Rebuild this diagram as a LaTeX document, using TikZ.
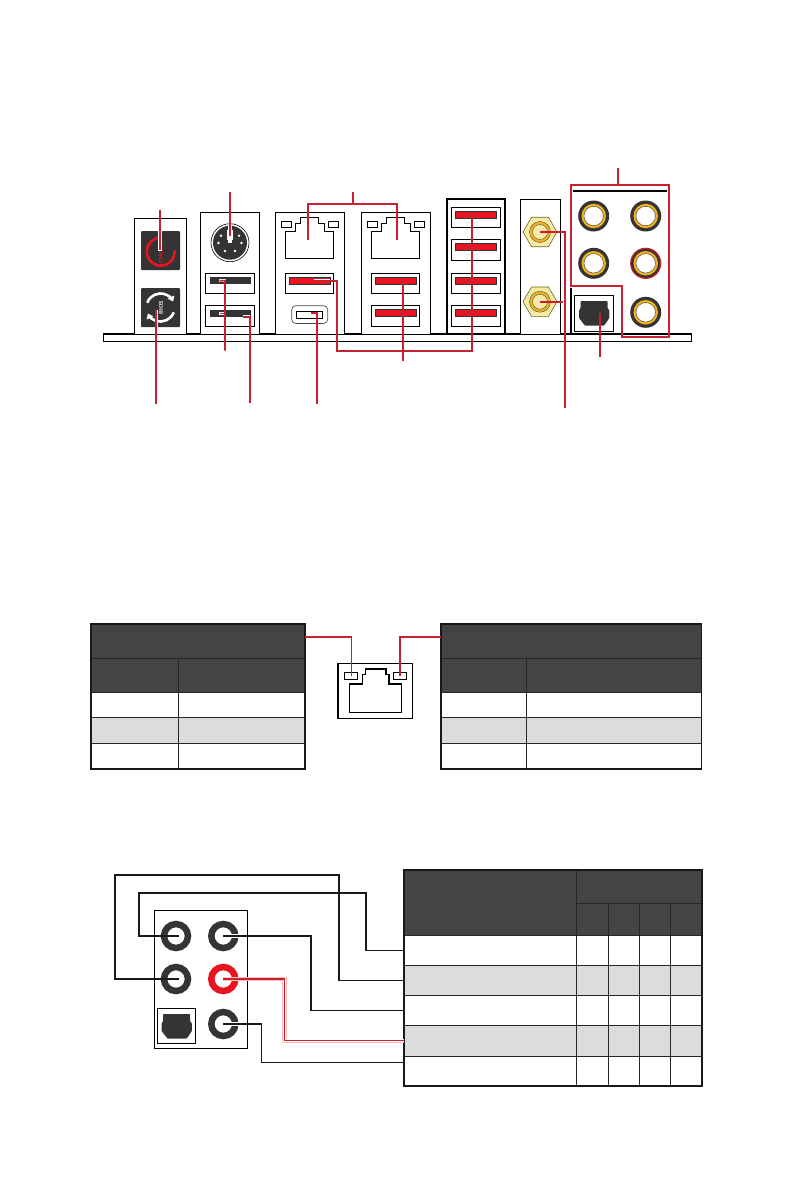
\documentclass[tikz,border=0pt]{standalone}
\usepackage{xcolor}
\usepackage{tikz}
\usetikzlibrary{shapes.geometric,arrows.meta,positioning,calc}
\definecolor{leadRed}{HTML}{C8202E}
\definecolor{portRed}{HTML}{E8141F}
\definecolor{portDark}{HTML}{353334}
\definecolor{headDark}{HTML}{454344}
\definecolor{rowGray}{HTML}{DCDCDC}
\definecolor{portGold}{HTML}{EFB41C}
\definecolor{paleGold}{HTML}{F6EBA6}

\begin{document}
\begin{tikzpicture}[
    x=1pt, y=-1pt,
    boxSize/.style 2 args={minimum width=#1pt, minimum height=#2pt},
    boxNode/.style={rectangle, anchor=north west, inner sep=0pt, outer sep=0pt},
    panelThin/.style={boxNode, draw=black, line width=0.9pt, fill=white},
    panelWide/.style={boxNode, draw=black, line width=1.5pt, fill=white},
    portBox/.style={boxNode, draw=black, line width=0.9pt, fill=white},
    slotBlack/.style={boxNode, fill=portDark},
    slotRed/.style={boxNode, fill=portRed, draw=portDark, line width=0.7pt},
    buttonNode/.style={boxNode, fill=portDark, rounded corners=1pt},
    outerRing/.style={circle, inner sep=0pt, fill=portDark, minimum size=31pt},
    goldRing/.style={circle, inner sep=0pt, fill=portGold, minimum size=24.5pt},
    holeNode/.style={circle, inner sep=0pt, fill=white, draw=portDark, line width=0.4pt, minimum size=19.5pt},
    plainRing/.style={circle, inner sep=0pt, fill=white, draw=portDark, line width=6.5pt, minimum size=24pt},
    hexNode/.style={regular polygon, regular polygon sides=6, inner sep=0pt, draw=olive!70!black, line width=0.6pt, fill=paleGold, minimum size=34pt},
    pinNode/.style={circle, inner sep=0pt, fill=white, minimum size=2.6pt},
    redLead/.style={draw=leadRed, line width=1.7pt},
    blackLead/.style={draw=black!90, line width=1.6pt},
    haloLead/.style={draw=white, line width=3.4pt},
    tableFrame/.style={boxNode, draw=black!90, line width=1.8pt},
    headCell/.style={boxNode, fill=headDark, draw=black!85, line width=0.8pt},
    whiteRow/.style={boxNode, fill=white, draw=black!85, line width=0.8pt},
    grayRow/.style={boxNode, fill=rowGray, draw=black!85, line width=0.8pt},
    tableLine/.style={draw=black!85, line width=0.8pt}
]
\useasboundingbox (0,0) rectangle (794,1191);

% back panel
\node[boxNode, boxSize={588.4}{7.4}, draw=black, line width=1.2pt, fill=white] (rearBar) at (103.3,334.3) {};
\draw[black, line width=2pt] (rearBar.north west) -- (rearBar.north east);
\node[panelThin, boxSize={51.3}{116}] (panelBios) at (134.7,218) {};
\node[panelWide, boxSize={58.6}{122}] (panelMouse) at (200.7,212.3) {};
\node[panelThin, boxSize={69.3}{122}] (panelLanA) at (275,212.3) {};
\node[panelThin, boxSize={69.7}{122}] (panelLanB) at (361,212.3) {};
\node[boxNode, boxSize={58.3}{135}, draw=black, line width=2.2pt, fill=white] (panelUsb) at (447,199) {};
\node[panelThin, boxSize={40}{135}] (panelWifi) at (520.3,199.3) {};

% buttons
\node[buttonNode, boxSize={39}{39}] (btnCmos) at (141,231) {};
\draw[portRed, line width=2.6pt] (162,237.7) arc[start angle=85, end angle=365, radius=14pt];
\node[rotate=90, font=\sffamily\bfseries\fontsize{5.5}{5.5}\selectfont, text=portRed, inner sep=0pt] (txtCmos) at (161,255) {CMOS};
\node[buttonNode, boxSize={39}{39}] (btnBios) at (141,288) {};
\draw[white, line width=2.6pt, -{Triangle[length=5pt,width=7pt]}] (147.3,302.7) arc[start angle=160, end angle=25, radius=14pt];
\draw[white, line width=2.6pt, -{Triangle[length=5pt,width=7pt]}] (173.7,312.3) arc[start angle=-20, end angle=-155, radius=14pt];
\node[rotate=90, font=\sffamily\bfseries\fontsize{5.5}{5.5}\selectfont, text=white, inner sep=0pt] (txtBios) at (161,307.5) {BIOS};

% mouse port
\node[circle, draw=black, line width=0.6pt, fill=white, inner sep=0pt, minimum size=38pt] (ps2Ring) at (230,242.7) {};
\node[circle, fill=portDark, inner sep=0pt, minimum size=34pt] (ps2Body) at (ps2Ring) {};
\node[boxNode, boxSize={5.6}{10}, fill=white] (ps2Notch) at (227.2,230) {};
\node[pinNode] (pinA) at (221,235.7) {};
\node[pinNode] (pinB) at (239,235.7) {};
\node[pinNode] (pinC) at (218.5,243) {};
\node[pinNode] (pinD) at (241.5,243) {};
\node[pinNode] (pinE) at (225,251) {};
\node[pinNode] (pinF) at (235,251) {};

% black usb
\node[portBox, boxSize={49.4}{20.4}] (usbBlackA) at (205.3,273.3) {};
\node[slotBlack, boxSize={41}{6.8}] (slotBlackA) at (210,277.3) {};
\node[portBox, boxSize={49.4}{21.4}] (usbBlackB) at (205.3,305.3) {};
\node[slotBlack, boxSize={41}{6.8}] (slotBlackB) at (210,310) {};

% lan one
\draw[black, line width=0.9pt, fill=white] (285.3,258.7) -- (285.3,231.7) -- (295.7,231.7) -- (295.7,223.3) -- (300.7,223.3) -- (300.7,217.7) -- (318.7,217.7) -- (318.7,223.3) -- (324,223.3) -- (324,231.7) -- (333.7,231.7) -- (333.7,258.7) -- cycle;
\node[portBox, boxSize={10.3}{6.3}] (ledAL) at (281.3,221.3) {};
\node[portBox, boxSize={10.3}{6.3}] (ledAR) at (328.3,221.3) {};
\coordinate (lanHoleA) at (308,240);
\node[portBox, boxSize={48.4}{20.4}] (usbRedA) at (285.3,273.3) {};
\node[slotRed, boxSize={40.7}{7.3}] (slotRedA) at (289.3,277.3) {};
\node[boxNode, boxSize={36}{17.7}, draw=black!70, line width=0.7pt, rounded corners=4pt, fill=white] (typeC) at (291.7,305.7) {};
\node[boxNode, boxSize={26}{6.7}, draw=black, line width=0.7pt, fill=white] (typeCSlot) at (296.7,311.3) {};

% lan two
\draw[black, line width=0.9pt, fill=white] (371.3,258.7) -- (371.3,231.7) -- (381.7,231.7) -- (381.7,223.3) -- (386.7,223.3) -- (386.7,217.7) -- (404.7,217.7) -- (404.7,223.3) -- (410,223.3) -- (410,231.7) -- (419.7,231.7) -- (419.7,258.7) -- cycle;
\node[portBox, boxSize={10.3}{6.3}] (ledBL) at (367.3,221.3) {};
\node[portBox, boxSize={10.3}{6.3}] (ledBR) at (414.3,221.3) {};
\coordinate (lanHoleB) at (396.7,240);
\node[portBox, boxSize={48.4}{20.4}] (usbRedB) at (371.3,273.3) {};
\node[slotRed, boxSize={40.7}{7.3}] (slotRedB) at (375.3,277.3) {};
\node[portBox, boxSize={48.4}{21.4}] (usbRedC) at (371.3,305.3) {};
\node[slotRed, boxSize={40.7}{7.3}] (slotRedC) at (375.3,309.3) {};

% usb stack
\node[portBox, boxSize={49}{20.4}] (usbRedD) at (451.3,207.3) {};
\node[slotRed, boxSize={41.4}{7.3}] (slotRedD) at (455.3,211.3) {};
\node[portBox, boxSize={49}{21}] (usbRedE) at (451.3,239.3) {};
\node[slotRed, boxSize={41.4}{7.3}] (slotRedE) at (455.3,243.3) {};
\node[portBox, boxSize={49}{20.4}] (usbRedF) at (451.3,273.3) {};
\node[slotRed, boxSize={41.4}{7.3}] (slotRedF) at (455.3,277.3) {};
\node[portBox, boxSize={49}{21}] (usbRedG) at (451.3,305.3) {};
\node[slotRed, boxSize={41.4}{7.3}] (slotRedG) at (455.3,309.3) {};

% antenna sockets
\node[hexNode] (hexA) at (540,232) {};
\node[circle, inner sep=0pt, fill=portGold, draw=black!70, line width=0.4pt, minimum size=21pt] (hexARing) at (hexA) {};
\node[circle, inner sep=0pt, fill=paleGold, draw=black!70, line width=0.4pt, minimum size=15pt] (hexAHole) at (hexA) {};
\node[hexNode] (hexB) at (540,301.7) {};
\node[circle, inner sep=0pt, fill=portGold, draw=black!70, line width=0.4pt, minimum size=21pt] (hexBRing) at (hexB) {};
\node[circle, inner sep=0pt, fill=paleGold, draw=black!70, line width=0.4pt, minimum size=15pt] (hexBHole) at (hexB) {};

% audio jacks
\draw[black, line width=1.5pt] (573,191) -- (666.7,191);
\draw[black, line width=1.5pt] (571,288.3) -- (571,334);
\node[outerRing] (jackA) at (593.7,216) {};
\node[goldRing] (jackAGold) at (jackA) {};
\node[holeNode] (jackAHole) at (jackA) {};
\node[outerRing] (jackB) at (645.7,216) {};
\node[goldRing] (jackBGold) at (jackB) {};
\node[holeNode] (jackBHole) at (jackB) {};
\node[outerRing] (jackC) at (593.7,263.3) {};
\node[goldRing] (jackCGold) at (jackC) {};
\node[holeNode] (jackCHole) at (jackC) {};
\node[outerRing, draw=leadRed, line width=1.2pt, minimum size=30pt] (jackD) at (645.7,263.3) {};
\node[goldRing] (jackDGold) at (jackD) {};
\node[holeNode] (jackDHole) at (jackD) {};
\node[outerRing] (jackE) at (645.7,312.3) {};
\node[goldRing] (jackEGold) at (jackE) {};
\node[holeNode] (jackEHole) at (jackE) {};
\node[portBox, boxSize={39.4}{36.4}] (opticalA) at (574.3,295.3) {};
\fill[portDark, rounded corners=0.8pt] (580.5,301) -- (607.5,301) -- (607.5,308.5) -- (609.3,310) -- (609.3,318) -- (604,325.7) -- (585,325.7) -- (579,318) -- (579,310) -- (580.5,308.5) -- cycle;
\coordinate (opticalPin) at (600,313);

% rear leads
\coordinate (endCmos) at (160,210);
\coordinate (endMouse) at (230,192);
\coordinate (endLan) at (353,192);
\coordinate (endAudio) at (618,168);
\coordinate (endBios) at (156,404);
\coordinate (endUsbA) at (225,350.7);
\coordinate (endUsbB) at (250,403);
\coordinate (endTypeC) at (317,404);
\coordinate (endUsbC) at (402.7,360.7);
\coordinate (endOptical) at (600,357);
\coordinate (endWifi) at (565,408);

\draw[haloLead] (endCmos |- btnCmos.north) -- ([xshift=-0.5pt]btnCmos.center);
\draw[redLead] (endCmos) -- (160,250);
\draw[haloLead] (endMouse |- ps2Body.north) -- (ps2Body.center);
\draw[redLead] (endMouse) -- (230,236);
\draw[redLead] (lanHoleA) -- (308,204) -- (396.7,204) -- (lanHoleB);
\draw[redLead] (353,204) -- (endLan);
\draw[redLead] (endAudio) -- (618,185.3);
\draw[redLead, line width=2pt] (570.7,185.3) -- (669.3,185.3) -- (669.3,337) -- (621.7,337) -- (621.7,286) -- (570.7,286) -- cycle;
\draw[haloLead, line width=3pt] (156,310) -- (156,327);
\draw[redLead] (endBios) -- (156,310);

\draw[haloLead, line width=2.6pt] (219.3,280.6) -- (225,280.6) -- (225,284);
\draw[haloLead, line width=2.6pt] (219.3,313.4) -- (225,313.4) -- (225,317);
\draw[redLead] (endUsbA) -- (225,280.6) -- ([xshift=-11pt]slotBlackA.center);
\draw[redLead] (225,313.4) -- ([xshift=-11pt]slotBlackB.center);
\draw[haloLead, line width=2.6pt] (242.7,316.7) -- (250,316.7);
\draw[redLead] (endUsbB) -- (250,316.7) -- (242.7,316.7);
\draw[redLead] (endTypeC) -- (317,313) -- (310.7,313);

\draw[haloLead, line width=2.8pt] (314,280.7) -- (330,280.7);
\draw[redLead] (314,280.7) -- (337,280.7) -- (337,351) -- (472,351) -- (472,214) -- (466,214);
\draw[redLead] (472,247) -- (466,247);
\draw[redLead] (472,281) -- (466,281);
\draw[redLead] (472,313) -- (466,313);
\draw[redLead] (endUsbC) -- (402.7,280.7) -- (396.7,280.7);
\draw[redLead] (402.7,313) -- (396.7,313);

\draw[redLead] (hexA.center) -- (565,232) -- (endWifi);
\draw[redLead] (hexB.center) -- (563,301.7);
\draw[redLead] (endOptical) -- (opticalPin);

% lan status tables
\node[headCell, boxSize={214}{34.6}] (lanLeftTop) at (90.7,623.7) {};
\node[headCell, boxSize={214}{34}] (lanLeftHead) at (90.7,658.3) {};
\node[whiteRow, boxSize={214}{25}] (lanLeftRowA) at (90.7,692.3) {};
\node[grayRow, boxSize={214}{26}] (lanLeftRowB) at (90.7,717.3) {};
\node[whiteRow, boxSize={214}{25.7}] (lanLeftRowC) at (90.7,743.3) {};
\draw[tableLine] (178.3,658.3) -- (178.3,769);
\node[tableFrame, boxSize={214}{145.3}] (lanLeftFrame) at (90.7,623.7) {};

\node[headCell, boxSize={260.4}{34.6}] (lanRightTop) at (441,623.7) {};
\node[headCell, boxSize={260.4}{34}] (lanRightHead) at (441,658.3) {};
\node[whiteRow, boxSize={260.4}{25}] (lanRightRowA) at (441,692.3) {};
\node[grayRow, boxSize={260.4}{26}] (lanRightRowB) at (441,717.3) {};
\node[whiteRow, boxSize={260.4}{25.7}] (lanRightRowC) at (441,743.3) {};
\draw[tableLine] (526.5,658.3) -- (526.5,769);
\node[tableFrame, boxSize={260.4}{145.3}] (lanRightFrame) at (441,623.7) {};

% lan socket between the tables
\node[boxNode, boxSize={74.6}{55.4}, draw=black, line width=1.2pt, fill=white] (sockBox) at (338,663.3) {};
\draw[black, line width=1.2pt] (349.5,712.7) -- (349.5,684) -- (362.2,684) -- (362.2,674.5) -- (365.6,674.5) -- (365.6,669) -- (386,669) -- (386,674.5) -- (388.9,674.5) -- (388.9,684) -- (401.6,684) -- (401.6,712.7) -- cycle;
\node[boxNode, boxSize={12.7}{7.4}, draw=black, line width=1.3pt, fill=white] (sockLedL) at (344.6,672.3) {};
\node[boxNode, boxSize={12.7}{7.4}, draw=black, line width=1.3pt, fill=white] (sockLedR) at (393.8,672.3) {};
\draw[redLead] ([yshift=4.3pt]lanLeftTop.east) -- (351.6,636.7) -- (351.6,675.7);
\draw[redLead] ([yshift=4.3pt]lanRightTop.west) -- (399.9,636.7) -- (399.9,675.7);

% audio table
\node[headCell, boxSize={173}{65.3}] (audioHead) at (403.7,870) {};
\node[headCell, boxSize={125.6}{33.3}] (audioChan) at (576.7,870) {};
\node[headCell, boxSize={31.6}{32}] (audioChanA) at (576.7,903.3) {};
\node[headCell, boxSize={31}{32}] (audioChanB) at (608.3,903.3) {};
\node[headCell, boxSize={31.4}{32}] (audioChanC) at (639.3,903.3) {};
\node[headCell, boxSize={31.6}{32}] (audioChanD) at (670.7,903.3) {};
\node[whiteRow, boxSize={298.6}{30}] (audioRowA) at (403.7,935.3) {};
\node[grayRow, boxSize={298.6}{30}] (audioRowB) at (403.7,965.3) {};
\node[whiteRow, boxSize={298.6}{30}] (audioRowC) at (403.7,995.3) {};
\node[grayRow, boxSize={298.6}{31}] (audioRowD) at (403.7,1025.3) {};
\node[whiteRow, boxSize={298.6}{29.7}] (audioRowE) at (403.7,1056.3) {};
\draw[tableLine] (576.7,935.3) -- (576.7,1086);
\draw[tableLine] (608.3,935.3) -- (608.3,1086);
\draw[tableLine] (639.3,935.3) -- (639.3,1086);
\draw[tableLine] (670.7,935.3) -- (670.7,1086);
\node[tableFrame, boxSize={298.6}{216}] (audioFrame) at (403.7,870) {};

% audio jacks panel
\node[panelThin, boxSize={93}{137.3}] (jackPanel) at (154.3,910.7) {};
\node[plainRing] (rearTL) at (176,936) {};
\node[plainRing] (rearTR) at (223.3,936) {};
\node[plainRing] (rearML) at (176,979) {};
\node[plainRing, draw=portRed] (rearMR) at (223.3,979) {};
\node[plainRing] (rearBR) at (223.3,1024) {};
\node[boxNode, boxSize={38}{35.4}, draw=black, line width=1.2pt, fill=white] (opticalB) at (157.7,1008.3) {};
\fill[portDark, rounded corners=0.8pt, shift={(-417.4,713)}] (580.5,301) -- (607.5,301) -- (607.5,308.5) -- (609.3,310) -- (609.3,318) -- (604,325.7) -- (585,325.7) -- (579,318) -- (579,310) -- (580.5,308.5) -- cycle;

\draw[blackLead] ([xshift=3pt]rearTL.center) -- (139,936) -- (139,892.7) -- (366,892.7) -- (366,950.3) -- (audioRowA.west);
\draw[blackLead] ([xshift=3pt]rearML.center) -- (115,979) -- (115,875) -- (339,875) -- (339,980.3) -- (audioRowB.west);
\draw[haloLead] ([xshift=2pt]rearTR.center) -- ([xshift=18pt]rearTR.center);
\draw[blackLead] (rearTR.center) -- (311,936) -- (311,1010.3) -- (audioRowC.west);
\draw[draw=red!25, line width=4.5pt] (rearMR.center) -- (284.3,979) -- (284.3,1040.8) -- (audioRowD.west);
\draw[white, line width=2.8pt] (rearMR.center) -- (284.3,979) -- (284.3,1040.8) -- (audioRowD.west);
\draw[redLead, line width=1.3pt] (rearMR.center) -- (284.3,979) -- (284.3,1040.8) -- (audioRowD.west);
\draw[haloLead] ([xshift=2pt]rearBR.center) -- ([xshift=18pt]rearBR.center);
\draw[blackLead] (rearBR.center) -- (261.3,1024) -- (261.3,1062.3) -- (audioRowE.west |- 0,1062.3);
\end{tikzpicture}
\end{document}
